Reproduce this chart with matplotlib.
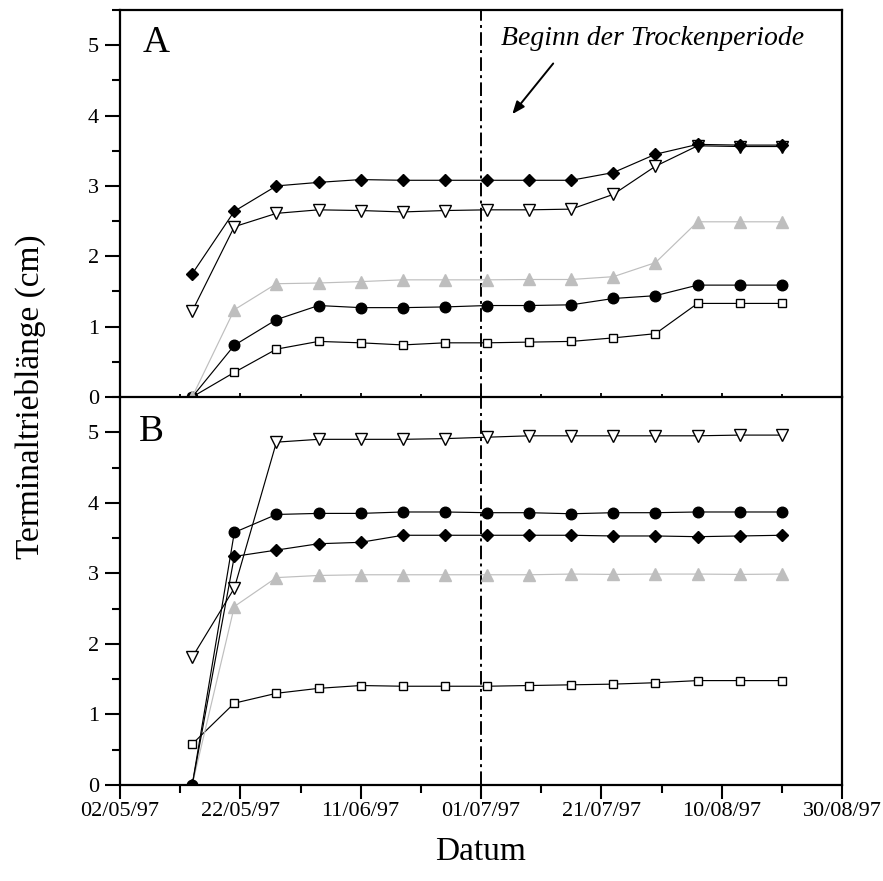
import matplotlib
matplotlib.use("Agg")
import matplotlib.pyplot as plt
import matplotlib.dates as mdates
from matplotlib.ticker import FixedLocator, MultipleLocator
from datetime import datetime

plt.rcParams['font.family'] = ['Liberation Serif', 'DejaVu Serif']

# ---- data ----
dates_str = ["14/05/97", "21/05/97", "28/05/97", "04/06/97", "11/06/97", "18/06/97",
             "25/06/97", "02/07/97", "09/07/97", "16/07/97", "23/07/97", "30/07/97",
             "06/08/97", "13/08/97", "20/08/97"]

# Panel A
diamond_A = [1.75, 2.64, 3.00, 3.05, 3.09, 3.08, 3.08, 3.08, 3.08, 3.08, 3.19, 3.45, 3.59, 3.58, 3.58]
tridown_A = [1.22, 2.42, 2.61, 2.66, 2.65, 2.63, 2.65, 2.66, 2.66, 2.67, 2.88, 3.28, 3.57, 3.56, 3.56]
grey_A    = [0.0, 1.24, 1.61, 1.62, 1.64, 1.665, 1.665, 1.665, 1.67, 1.67, 1.71, 1.91, 2.49, 2.49, 2.49]
circle_A  = [0.0, 0.735, 1.10, 1.30, 1.27, 1.27, 1.28, 1.30, 1.30, 1.31, 1.40, 1.44, 1.59, 1.59, 1.59]
square_A  = [0.0, 0.35, 0.68, 0.79, 0.77, 0.74, 0.77, 0.77, 0.78, 0.79, 0.84, 0.90, 1.33, 1.33, 1.33]

# Panel B
tridown_B = [1.81, 2.79, 4.86, 4.90, 4.90, 4.90, 4.91, 4.93, 4.95, 4.95, 4.95, 4.95, 4.95, 4.96, 4.96]
circle_B  = [0.0, 3.58, 3.835, 3.85, 3.85, 3.87, 3.87, 3.86, 3.86, 3.845, 3.86, 3.86, 3.87, 3.87, 3.87]
diamond_B = [0.0, 3.24, 3.33, 3.42, 3.44, 3.54, 3.54, 3.54, 3.54, 3.54, 3.53, 3.53, 3.52, 3.53, 3.54]
grey_B    = [0.0, 2.53, 2.94, 2.97, 2.98, 2.98, 2.98, 2.98, 2.98, 2.99, 2.985, 2.99, 2.99, 2.985, 2.99]
square_B  = [0.58, 1.16, 1.30, 1.37, 1.41, 1.40, 1.40, 1.40, 1.41, 1.42, 1.43, 1.45, 1.48, 1.48, 1.48]

xtick_labels = ["02/05/97", "22/05/97", "11/06/97", "01/07/97", "21/07/97", "10/08/97", "30/08/97"]
minor_tick_dates = ["12/05/97", "01/06/97", "21/06/97", "11/07/97", "31/07/97", "20/08/97"]
drought_start = "01/07/97"
ytick_values = [0, 1, 2, 3, 4, 5]

def d(s):
    return mdates.date2num(datetime.strptime(s, "%d/%m/%y"))

x = [d(s) for s in dates_str]
xmaj = [d(s) for s in xtick_labels]
xmin = [d(s) for s in minor_tick_dates]

W, H = 883, 881
fig = plt.figure(figsize=(W / 100, H / 100), dpi=100)
left, right = 120, 842
ax_top = fig.add_axes([left / W, 1 - 397 / H, (right - left) / W, 387 / H])
ax_bot = fig.add_axes([left / W, 1 - 785 / H, (right - left) / W, 388 / H])

GREY = '#bebebe'
lw = 0.85

def plot_panel(ax, square, circle, grey, tridown, diamond, grey_on_top):
    ax.plot(x, square, color='black', lw=lw, marker='s', ms=6.3, mfc='white', mec='black', mew=1.0, zorder=3)
    ax.plot(x, circle, color='black', lw=lw, marker='o', ms=7.6, mfc='black', mec='black', zorder=3)
    ax.plot(x, tridown, color='black', lw=lw, marker='v', ms=8.2, mfc='white', mec='black', mew=1.0, zorder=3)
    ax.plot(x, grey, color=GREY, lw=lw, marker='^', ms=8.2, mfc=GREY, mec=GREY, zorder=4 if grey_on_top else 3)
    ax.plot(x, diamond, color='black', lw=lw, marker='D', ms=6.6, mfc='black', mec='black', zorder=5)

plot_panel(ax_top, square_A, circle_A, grey_A, tridown_A, diamond_A, grey_on_top=True)
plot_panel(ax_bot, square_B, circle_B, grey_B, tridown_B, diamond_B, grey_on_top=False)

for ax in (ax_top, ax_bot):
    ax.set_xlim(xmaj[0], xmaj[-1])
    ax.set_ylim(0, 5.5)
    ax.axvline(d(drought_start), color='black', lw=1.4, dashes=(7, 2.2, 1.5, 2.2), zorder=2)
    for sp in ax.spines.values():
        sp.set_linewidth(1.6)
    ax.yaxis.set_major_locator(FixedLocator(ytick_values))
    ax.yaxis.set_minor_locator(MultipleLocator(0.5))
    ax.set_yticklabels([str(v) for v in ytick_values])
    ax.tick_params(axis='y', which='major', direction='out', length=11, width=1.5,
                   labelsize=16, pad=4, right=False)
    ax.tick_params(axis='y', which='minor', direction='out', length=6, width=1.5, right=False)
    ax.xaxis.set_major_locator(FixedLocator(xmaj))
    ax.xaxis.set_minor_locator(FixedLocator(xmin))

ax_top.tick_params(axis='x', which='major', direction='inout', length=6, width=1.3, labelbottom=False, top=False)
ax_top.tick_params(axis='x', which='minor', direction='inout', length=4, width=1.3, top=False)
ax_top.spines['bottom'].set_visible(False)

ax_bot.set_xticklabels(xtick_labels)
ax_bot.tick_params(axis='x', which='major', direction='out', length=10, width=1.5, labelsize=16, pad=2, top=False)
ax_bot.tick_params(axis='x', which='minor', direction='out', length=6, width=1.5, top=False)

ax_top.text(0.032, 0.915, "A", transform=ax_top.transAxes, fontsize=27, ha='left', va='center')
ax_bot.text(0.026, 0.91, "B", transform=ax_bot.transAxes, fontsize=27, ha='left', va='center')

ax_top.text(d("04/07/97") + 0.3, 5.09, "Beginn der Trockenperiode", fontsize=20, style='italic',
            ha='left', va='center')
ax_top.annotate("", xy=(d("06/07/97") + 0.2, 4.02), xytext=(d("13/07/97"), 4.74),
                arrowprops=dict(arrowstyle='-|>,head_length=0.75,head_width=0.3', color='black',
                                lw=1.4, shrinkA=0, shrinkB=0))

fig.text(30 / W, 1 - 397 / H, "Terminaltrieblänge (cm)", rotation=90, fontsize=24,
         ha='center', va='center')
fig.text((left + right) / 2 / W, 1 - 852 / H, "Datum", fontsize=24, ha='center', va='center')

fig.savefig("out.png", dpi=100)
